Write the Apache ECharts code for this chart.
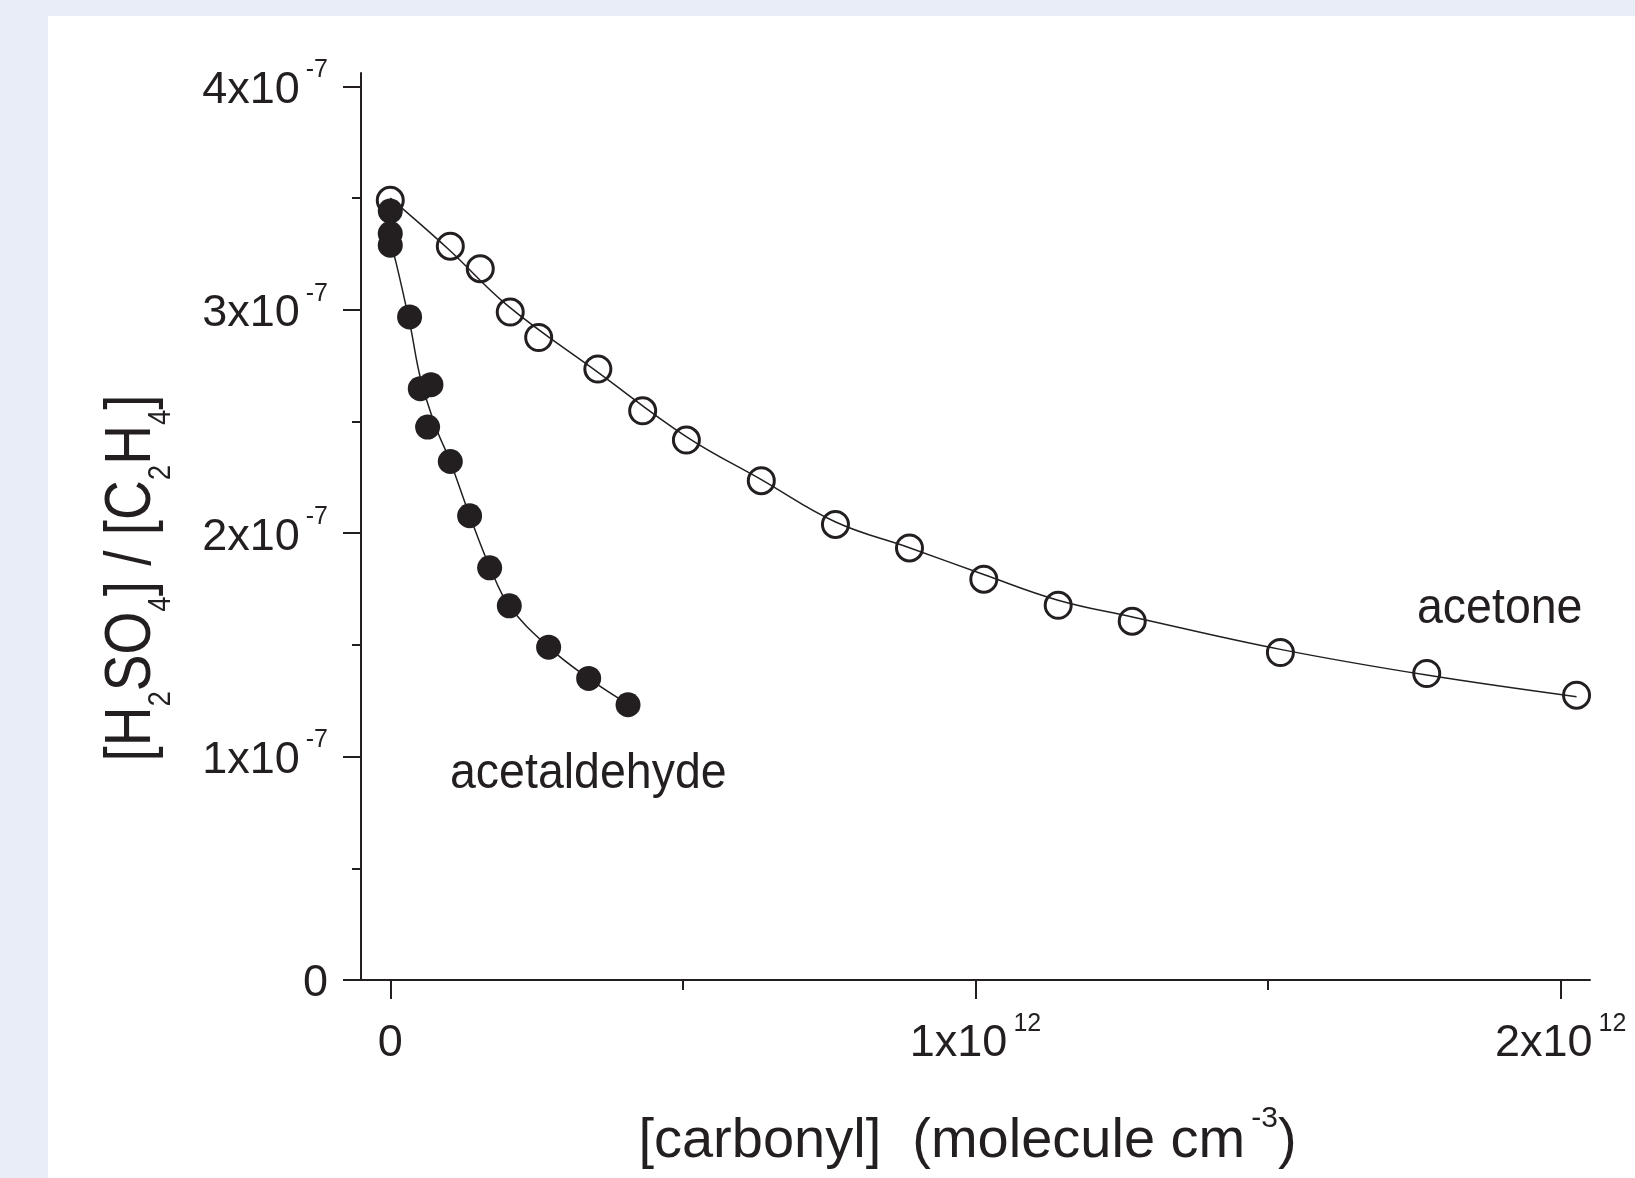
<!DOCTYPE html>
<html>
<head>
<meta charset="utf-8">
<title>[H2SO4]/[C2H4] vs [carbonyl]</title>
<script src="https://cdn.jsdelivr.net/npm/echarts@6/dist/echarts.min.js"></script>
<style>
html, body { margin: 0; padding: 0; background: #e8edf7; }
#panel { position: absolute; left: 48px; top: 16px; right: 0; bottom: 0; background: #ffffff; }
#main { position: absolute; left: 0; top: 0; width: 1635px; height: 1178px; }
</style>
</head>
<body>
<div id="panel"></div>
<div id="main"></div>
<script>
// x in units of 1e12 molecule cm-3, y in units of 1e-7
var acetoneX = [0, 0.1026, 0.1538, 0.205, 0.2536, 0.3547, 0.4313, 0.506, 0.634, 0.7607, 0.8872, 1.0142, 1.1413, 1.2678, 1.521, 1.771, 2.027];
var acetoneY = [3.490, 3.285, 3.184, 2.990, 2.876, 2.735, 2.548, 2.417, 2.235, 2.039, 1.934, 1.794, 1.677, 1.606, 1.466, 1.372, 1.275];

var acetaldX = [0, 0, 0, 0.033, 0.0513, 0.0695, 0.0638, 0.1026, 0.1356, 0.1698, 0.2034, 0.2706, 0.339, 0.4063];
var acetaldY = [3.442, 3.341, 3.289, 2.968, 2.647, 2.665, 2.475, 2.321, 2.078, 1.845, 1.675, 1.490, 1.350, 1.232];

// fitted curves
var acetoneFitX = [0, 0.10, 0.20, 0.355, 0.507, 0.634, 0.761, 0.887, 1.014, 1.141, 1.268, 1.521, 1.771, 2.027];
var acetoneFitY = [3.50, 3.27, 3.02, 2.72, 2.43, 2.24, 2.05, 1.935, 1.815, 1.70, 1.625, 1.48, 1.365, 1.268];

var acetaldFitX = [0, 0.010, 0.034, 0.052, 0.077, 0.1026, 0.1356, 0.170, 0.2034, 0.2706, 0.339, 0.406];
var acetaldFitY = [3.30, 3.21, 2.93, 2.69, 2.48, 2.32, 2.08, 1.85, 1.675, 1.49, 1.35, 1.235];

var xMajorTicks = [0, 1, 2];
var xMinorTicks = [0.5, 1.5];
var yMajorTicks = [0, 1, 2, 3, 4];
var yMinorTicks = [0.5, 1.5, 2.5, 3.5];
var xExp = '12';
var yExp = '-7';

var ink = '#231f20';
var fam = "'Liberation Sans', Arial, Helvetica, sans-serif";

function pairs(xs, ys) {
	var out = [];
	for (var i = 0; i < xs.length; i++) {
		out.push([xs[i], ys[i]]);
	}
	return out;
}

function powLabel(v, exp) {
	if (v === 0) return '{b|0}';
	return '{b|' + v + 'x10}{s|' + exp + '}';
}

var tickRich = {
	b: { fontSize: 45, lineHeight: 66, fontFamily: fam, color: ink },
	s: { fontSize: 25, lineHeight: 66, fontFamily: fam, color: ink, padding: [0, 0, 40, 6] }
};

var myChart = echarts.init(document.getElementById('main'));
var option = {
	animation: false,
	grid: { left: 361, top: 73, width: 1229, height: 907, outerBoundsMode: 'none' },
	xAxis: [
		{
			type: 'value',
			min: -0.05,
			max: 2.05,
			position: 'bottom',
			axisLine: { show: true, onZero: false, lineStyle: { color: ink, width: 2 } },
			axisTick: { show: true, customValues: xMajorTicks, length: 19, lineStyle: { color: ink, width: 2 } },
			axisLabel: {
				customValues: xMajorTicks,
				margin: 31,
				formatter: function (v) { return powLabel(v, xExp); },
				rich: tickRich
			},
			splitLine: { show: false },
			name: '{t|[carbonyl]  (molecule cm}{s|-3}{t|)}',
			nameLocation: 'middle',
			nameGap: 132,
			nameMoveOverlap: false,
			nameTextStyle: {
				padding: [0, 16, 0, 0],
				rich: {
					t: { fontSize: 56, lineHeight: 60, fontFamily: fam, color: ink },
					s: { fontSize: 30, lineHeight: 60, fontFamily: fam, color: ink, padding: [0, 0, 46, 6] }
				}
			}
		},
		{
			type: 'value',
			min: -0.05,
			max: 2.05,
			position: 'bottom',
			axisLine: { show: false, onZero: false },
			axisTick: { show: true, customValues: xMinorTicks, length: 10, lineStyle: { color: ink, width: 2 } },
			axisLabel: { show: false },
			splitLine: { show: false }
		}
	],
	yAxis: [
		{
			type: 'value',
			min: 0,
			max: 4.06,
			position: 'left',
			axisLine: { show: true, onZero: false, lineStyle: { color: ink, width: 2 } },
			axisTick: { show: true, customValues: yMajorTicks, length: 18, lineStyle: { color: ink, width: 2 } },
			axisLabel: {
				customValues: yMajorTicks,
				margin: 33,
				padding: [8, 0, 0, 0],
				formatter: function (v) { return powLabel(v, yExp); },
				rich: tickRich
			},
			splitLine: { show: false }
		},
		{
			type: 'value',
			min: 0,
			max: 4.06,
			position: 'left',
			axisLine: { show: false, onZero: false },
			axisTick: { show: true, customValues: yMinorTicks, length: 9, lineStyle: { color: ink, width: 2 } },
			axisLabel: { show: false },
			splitLine: { show: false }
		}
	],
	graphic: [
		{
			type: 'text',
			x: 132,
			y: 578,
			rotation: Math.PI / 2,
			scaleX: 0.86,
			style: {
				text: '{m|[H}{u|2}{m|SO}{u|4}{m|] / [C}{u|2}{m|H}{u|4}{m|]}',
				align: 'center',
				verticalAlign: 'middle',
				fill: ink,
				rich: {
					m: { fontSize: 64, lineHeight: 70, fontFamily: fam, fill: ink },
					u: { fontSize: 32, lineHeight: 70, fontFamily: fam, fill: ink, padding: [58, 0, 0, 0] }
				}
			}
		},
		{
			type: 'text',
			x: 1417,
			y: 609,
			scaleX: 0.93,
			style: { text: 'acetone', fontSize: 50, fontFamily: fam, fill: ink, align: 'left', verticalAlign: 'middle' }
		},
		{
			type: 'text',
			x: 450,
			y: 774,
			scaleX: 0.93,
			style: { text: 'acetaldehyde', fontSize: 50, fontFamily: fam, fill: ink, align: 'left', verticalAlign: 'middle' }
		}
	],
	series: [
		{
			name: 'acetone fit',
			type: 'line',
			data: pairs(acetoneFitX, acetoneFitY),
			showSymbol: false,
			smooth: 0.4,
			silent: true,
			lineStyle: { color: ink, width: 1.5 },
			z: 2
		},
		{
			name: 'acetaldehyde fit',
			type: 'line',
			data: pairs(acetaldFitX, acetaldFitY),
			showSymbol: false,
			smooth: 0.4,
			silent: true,
			lineStyle: { color: ink, width: 1.5 },
			z: 2
		},
		{
			name: 'acetone',
			type: 'scatter',
			data: pairs(acetoneX, acetoneY),
			symbol: 'circle',
			symbolSize: 26,
			itemStyle: { color: 'rgba(0,0,0,0)', borderColor: ink, borderWidth: 3, opacity: 1 },
			z: 3
		},
		{
			name: 'acetaldehyde',
			type: 'scatter',
			data: pairs(acetaldX, acetaldY),
			symbol: 'circle',
			symbolSize: 25,
			itemStyle: { color: ink, opacity: 1 },
			z: 4
		}
	]
};
myChart.setOption(option);
</script>
</body>
</html>
